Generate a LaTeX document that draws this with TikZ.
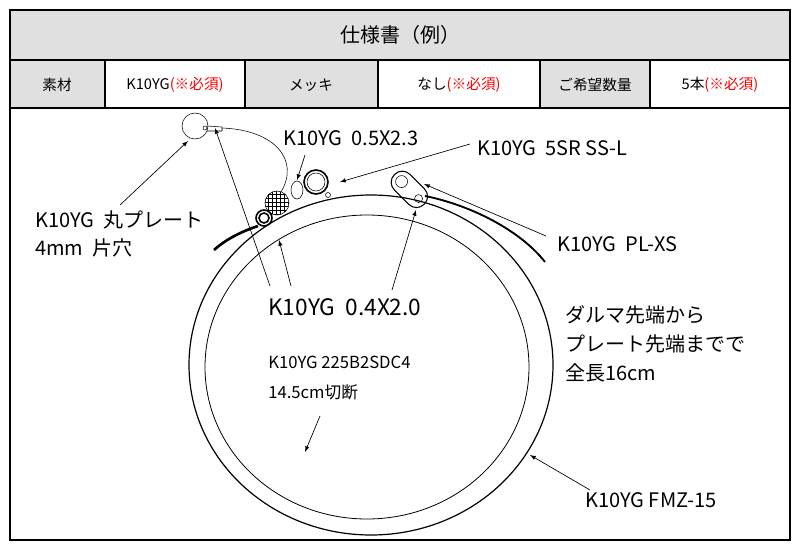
\documentclass[tikz,border=0pt]{standalone}
\usepackage{fontspec}
\setmainfont{Noto Sans CJK JP}
\usetikzlibrary{arrows,calc,patterns}
\definecolor{cellgray}{HTML}{E0E0E0}
\definecolor{must}{HTML}{FF0000}
\begin{document}
\begin{tikzpicture}[x=0.75pt,y=-0.75pt,
		%Option for nice arrows%
		>=latex,%
		cell/.style={draw,line width=1pt},%
		graycell/.style={cell,fill=cellgray},%
		lbl/.style={anchor=west,inner sep=0pt,font=\fontsize{15}{17}\selectfont},%
		tbl/.style={inner sep=0pt,font=\fontsize{11}{13}\selectfont},%
		pointer/.style={->,line width=0.5pt}%
		]
		\useasboundingbox (0,0) rectangle (800,550);
		%% frame and table
		\draw[cell] (10,10) rectangle (790,540);
		\draw[graycell] (10,10) rectangle (790,60);
		\foreach \a/\b in {10/105,245/378,540/650}
		\draw[graycell] (\a,60) rectangle (\b,108);
		\draw[cell] (10,108) -- (790,108);
		\node[font=\fontsize{15}{17}\selectfont] (title) at (400,35) {仕様書（例）};
		\node[tbl] (c1) at (57,85) {素材};
		\node[tbl] (c2) at (175,85) {K10YG\textcolor{must}{(※必須)}};
		\node[tbl] (c3) at (311,85) {メッキ};
		\node[tbl] (c4) at (459,85) {なし\textcolor{must}{(※必須)}};
		\node[tbl] (c5) at (595,85) {ご希望数量};
		\node[tbl] (c6) at (720,85) {5本\textcolor{must}{(※必須)}};
		%% ring wire
		\draw[line width=0.9pt] (371,365) ellipse (182 and 170);
		\draw[line width=0.6pt] (367,367) ellipse (162 and 152);
		\draw[line width=2pt] (258,226) .. controls (240,232) and (225,240) .. (214,250);
		%% parts
		\draw (195,126) circle (13);
		\draw (205,128) circle (2);
		\draw (207,126) -- (222,127) -- (222,131) -- (207,131);
		\draw (222,128) .. controls (275,130) and (300,160) .. (281,192);
		\fill[white] (277,203) circle (12);
		\draw[pattern=grid] (277,203) circle (12);
		\draw[line width=1.2pt] (264,218) circle (8);
		\draw[line width=1.2pt] (264,218) circle (5);
		\draw (297,190) ellipse (6 and 9);
		\draw[line width=1.2pt] (316,182) circle (12);
		\draw (316,182) circle (9);
		\draw (328,195) circle (2.5);
		\begin{scope}[shift={(403,183)},rotate=-45]
			\draw[line width=0.8pt,rounded corners=8pt] (-12,-11) rectangle (30,11);
			\draw (-2,0) circle (6);
			\draw (22,0) circle (4);
		\end{scope}
		\draw[line width=1.4pt] (425,196) .. controls (470,205) and (520,230) .. (545,262);
		%% labels
		\node[lbl] (lBall) at (35,220) {K10YG\ \ 丸プレート};
		\node[lbl] (lBall2) at (35,248) {4mm\ \ 片穴};
		\node[lbl] (lWire) at (283,138) {K10YG\ \ 0.5X2.3};
		\node[lbl] (lRing) at (477,148) {K10YG\ \ 5SR SS-L};
		\node[lbl] (lPlate) at (557,244) {K10YG\ \ PL-XS};
		\node[lbl,font=\fontsize{17}{19}\selectfont] (lJump) at (268,307) {K10YG\ \ 0.4X2.0};
		\node[lbl,font=\fontsize{12.5}{14}\selectfont] (lCore) at (268,362) {K10YG 225B2SDC4};
		\node[lbl,font=\fontsize{12.5}{14}\selectfont] (lCut) at (268,392) {14.5cm切断};
		\node[lbl] (n1) at (565,315) {ダルマ先端から};
		\node[lbl] (n2) at (565,344) {プレート先端までで};
		\node[lbl] (n3) at (565,373) {全長16cm};
		\node[lbl] (lCoat) at (585,500) {K10YG FMZ-15};
		%% pointers
		\coordinate (pBall) at (188,141);
		\coordinate (pJumpA) at (215,128);
		\coordinate (pJumpB) at (279,240);
		\coordinate (pWire) at (297,180);
		\coordinate (pRing) at (340,182);
		\coordinate (pPlate) at (424,184);
		\coordinate (pJumpC) at (416,210);
		\coordinate (pCore) at (305,452);
		\coordinate (pCoat) at (530,455);
		\draw[pointer] (120,205) -- (pBall);
		\draw[pointer] (270,286) -- (pJumpA);
		\draw[pointer] (291,286) -- (pJumpB);
		\draw[pointer] (305,155) -- (pWire);
		\draw[pointer] (470,144) -- (pRing);
		\draw[pointer] (546,236) -- (pPlate);
		\draw[pointer] (392,290) -- (pJumpC);
		\draw[pointer] (320,416) -- (pCore);
		\draw[pointer] (590,490) -- (pCoat);
\end{tikzpicture}
\end{document}
